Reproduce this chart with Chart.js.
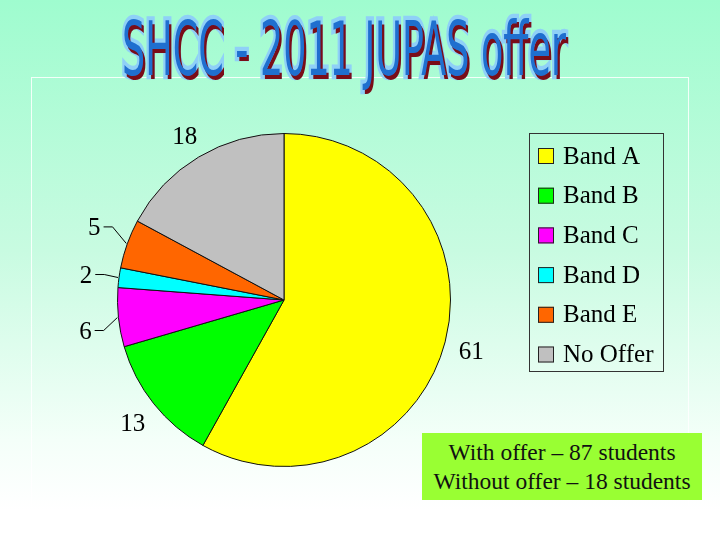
<!DOCTYPE html>
<html>
<head>
<meta charset="utf-8">
<script src="https://cdn.jsdelivr.net/npm/chart.js@4.4.0/dist/chart.umd.min.js"></script>
<style>
  html, body { margin: 0; padding: 0; }
  body {
    width: 720px; height: 540px; overflow: hidden; position: relative;
    background: linear-gradient(to bottom, #9ffccf 0px, #c8fbe1 250px, #f4fff9 440px, #ffffff 510px);
  }
  #frame {
    position: absolute; left: 31px; top: 77px; width: 656px; height: 428px;
    border: 1px solid rgba(255,255,255,0.85); border-bottom: none;
  }
  #title {
    position: absolute; left: 122px; top: 12px; white-space: nowrap;
    font-family: "DejaVu Sans Condensed", "DejaVu Sans", sans-serif; font-weight: normal;
    font-size: 36px; line-height: 36px; color: #1f6fcf;
    -webkit-text-stroke: 4px #8fd0f7; paint-order: stroke fill;
    text-shadow: 2px 2px 0 #7a0d18;
    transform-origin: 0 0;
  }
  #myChart { position: absolute; left: 0; top: 0; }
  #note {
    position: absolute; left: 422px; top: 433px; width: 280px; height: 67px;
    background: #99ff33; text-align: center;
    font-family: "Liberation Serif", "Times New Roman", serif; font-size: 23.5px; line-height: 29px;
    padding-top: 5px; box-sizing: border-box; color: #111; white-space: nowrap;
  }
</style>
</head>
<body>
<div id="frame"></div>
<div id="title">SHCC - 2011 JUPAS offer</div>
<canvas id="myChart" width="720" height="540"></canvas>
<div id="note"></div>
<script>
var categories = ['Band A', 'Band B', 'Band C', 'Band D', 'Band E', 'No Offer'];
var students = [61, 13, 6, 2, 5, 18];
var colors = ['#ffff00', '#00ff00', '#ff00ff', '#00ffff', '#ff6600', '#c0c0c0'];

// stretch the title like the word-art original
var title = document.getElementById('title');
var sx = 444 / title.offsetWidth;
title.style.transform = 'scale(' + sx + ', 2.1)';

var withOffer = 0;
for (var i = 0; i < categories.length; i++) {
  if (categories[i] !== 'No Offer') withOffer += students[i];
}
var noOffer = students[categories.indexOf('No Offer')];
document.getElementById('note').innerHTML =
  'With offer \u2013 ' + withOffer + ' students<br>Without offer \u2013 ' + noOffer + ' students';

var serif = '"Liberation Serif", "Times New Roman", serif';

const sliceLabels = {
  id: 'sliceLabels',
  afterDatasetsDraw(chart) {
    const ctx = chart.ctx;
    const meta = chart.getDatasetMeta(0);
    const total = students.reduce((a, b) => a + b, 0);
    ctx.save();
    ctx.font = '25px ' + serif;
    ctx.fillStyle = '#000';
    ctx.strokeStyle = '#000';
    ctx.lineWidth = 1;
    ctx.textAlign = 'center';
    ctx.textBaseline = 'middle';
    meta.data.forEach((arc, i) => {
      const mid = (arc.startAngle + arc.endAngle) / 2;
      const r = arc.outerRadius;
      const ex = arc.x + Math.cos(mid) * (r + 1);
      const ey = arc.y + Math.sin(mid) * (r + 1);
      const txt = String(students[i]);
      if (students[i] / total < 0.07) {
        // small slices: label pulled out to the left, spread apart, with a leader line
        const lx = ex - 32;
        const ly = arc.y + (ey - arc.y) * 1.4 + 8;
        const w = ctx.measureText(txt).width;
        ctx.fillText(txt, lx, ly);
        ctx.beginPath();
        ctx.moveTo(lx + w / 2 + 3, ly - 2);
        ctx.lineTo(lx + w / 2 + 12, ly - 2);
        ctx.lineTo(ex, ey);
        ctx.stroke();
      } else {
        const dist = r + 27;
        ctx.fillText(txt, arc.x + Math.cos(mid) * dist, arc.y + Math.sin(mid) * dist + 4);
      }
    });
    ctx.restore();
  }
};

const boxLegend = {
  id: 'boxLegend',
  afterDraw(chart) {
    const ctx = chart.ctx;
    const x0 = 529.5, y0 = 133.5, w = 134, h = 238;
    ctx.save();
    ctx.strokeStyle = '#333';
    ctx.lineWidth = 1;
    ctx.strokeRect(x0, y0, w, h);
    ctx.font = '25px ' + serif;
    ctx.textBaseline = 'middle';
    categories.forEach((c, i) => {
      const cy = 156 + i * 39.7;
      ctx.fillStyle = colors[i];
      ctx.fillRect(538, cy - 8, 16, 16);
      ctx.strokeStyle = '#222';
      ctx.strokeRect(538.5, cy - 7.5, 15, 15);
      ctx.fillStyle = '#000';
      ctx.fillText(c, 563, cy + 1);
    });
    ctx.restore();
  }
};

const ctx = document.getElementById('myChart');
const myPieChart = new Chart(ctx, {
  type: 'pie',
  data: {
    labels: categories,
    datasets: [{
      data: students,
      backgroundColor: colors,
      borderColor: '#111',
      borderWidth: 1
    }]
  },
  options: {
    responsive: false,
    animation: false,
    layout: { padding: { left: 117, right: 269, top: 133, bottom: 73 } },
    plugins: {
      legend: { display: false },
      tooltip: { enabled: false }
    }
  },
  plugins: [sliceLabels, boxLegend]
});
</script>
</body>
</html>
